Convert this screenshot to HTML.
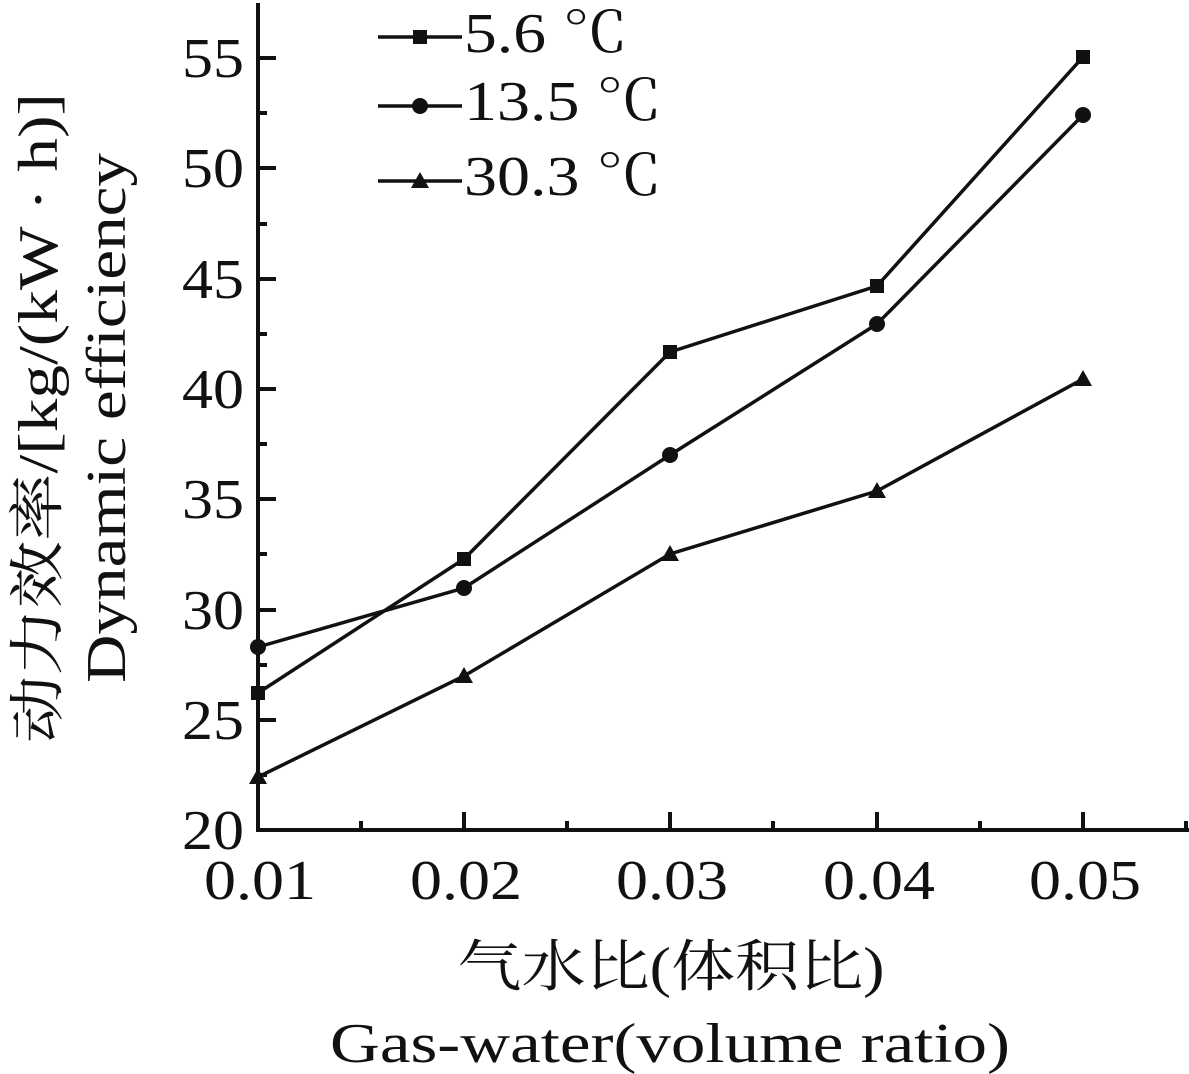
<!DOCTYPE html>
<html><head><meta charset="utf-8"><style>
html,body{margin:0;padding:0;background:#fff;}
svg{display:block;}
text{font-family:"Liberation Serif","Noto Serif CJK SC",serif;fill:#111;}
</style></head><body>
<svg width="1189" height="1074" viewBox="0 0 1189 1074" xmlns="http://www.w3.org/2000/svg">
<g stroke="#111" stroke-width="4" fill="none">
<line x1="258" y1="3" x2="258" y2="832"/>
<line x1="256" y1="830" x2="1189" y2="830"/>
<line x1="258" y1="830" x2="276" y2="830"/>
<line x1="258" y1="720" x2="276" y2="720"/>
<line x1="258" y1="610" x2="276" y2="610"/>
<line x1="258" y1="499" x2="276" y2="499"/>
<line x1="258" y1="389" x2="276" y2="389"/>
<line x1="258" y1="279" x2="276" y2="279"/>
<line x1="258" y1="168" x2="276" y2="168"/>
<line x1="258" y1="58" x2="276" y2="58"/>
<line x1="258" y1="775" x2="267" y2="775"/>
<line x1="258" y1="665" x2="267" y2="665"/>
<line x1="258" y1="554" x2="267" y2="554"/>
<line x1="258" y1="444" x2="267" y2="444"/>
<line x1="258" y1="334" x2="267" y2="334"/>
<line x1="258" y1="224" x2="267" y2="224"/>
<line x1="258" y1="113" x2="267" y2="113"/>
<line x1="464" y1="830" x2="464" y2="812"/>
<line x1="670" y1="830" x2="670" y2="812"/>
<line x1="877" y1="830" x2="877" y2="812"/>
<line x1="1083" y1="830" x2="1083" y2="812"/>
<line x1="361" y1="830" x2="361" y2="821"/>
<line x1="567" y1="830" x2="567" y2="821"/>
<line x1="773" y1="830" x2="773" y2="821"/>
<line x1="980" y1="830" x2="980" y2="821"/>
<line x1="1186" y1="830" x2="1186" y2="821"/>
</g>
<g stroke="#111" stroke-width="3.5" fill="none">
<polyline points="258,693 464,559 670,352 877,286 1083,57"/>
<polyline points="258,647 464,588 670,455 877,324 1083,115"/>
<polyline points="258,777 464,676 670,554 877,491 1083,379"/>
<line x1="378" y1="37" x2="462" y2="37"/>
<line x1="378" y1="106" x2="462" y2="106"/>
<line x1="378" y1="181" x2="462" y2="181"/>
</g>
<g fill="#111">
<rect x="251" y="686" width="14" height="14"/><rect x="457" y="552" width="14" height="14"/><rect x="663" y="345" width="14" height="14"/><rect x="870" y="279" width="14" height="14"/><rect x="1076" y="50" width="14" height="14"/>
<rect x="413" y="30" width="14" height="14"/>
<circle cx="258" cy="647" r="8"/><circle cx="464" cy="588" r="8"/><circle cx="670" cy="455" r="8"/><circle cx="877" cy="324" r="8"/><circle cx="1083" cy="115" r="8"/>
<circle cx="420" cy="106" r="8"/>
<polygon points="258,768 249,784 267,784"/><polygon points="464,667 455,683 473,683"/><polygon points="670,545 661,561 679,561"/><polygon points="877,482 868,498 886,498"/><polygon points="1083,370 1074,386 1092,386"/>
<polygon points="420,172 411,188 429,188"/>
</g>
<g font-size="56" lengthAdjust="spacingAndGlyphs">
<text x="464" y="52" textLength="164" lengthAdjust="spacingAndGlyphs">5.6 ℃</text>
<text x="464" y="120" textLength="198" lengthAdjust="spacingAndGlyphs">13.5 ℃</text>
<text x="464" y="195" textLength="198" lengthAdjust="spacingAndGlyphs">30.3 ℃</text>
</g>
<g font-size="56" text-anchor="end">
<text x="244" y="849" textLength="62" lengthAdjust="spacingAndGlyphs">20</text>
<text x="244" y="739" textLength="62" lengthAdjust="spacingAndGlyphs">25</text>
<text x="244" y="629" textLength="62" lengthAdjust="spacingAndGlyphs">30</text>
<text x="244" y="518" textLength="62" lengthAdjust="spacingAndGlyphs">35</text>
<text x="244" y="408" textLength="62" lengthAdjust="spacingAndGlyphs">40</text>
<text x="244" y="298" textLength="62" lengthAdjust="spacingAndGlyphs">45</text>
<text x="244" y="187" textLength="62" lengthAdjust="spacingAndGlyphs">50</text>
<text x="244" y="77" textLength="62" lengthAdjust="spacingAndGlyphs">55</text>
</g>
<g font-size="56" text-anchor="middle">
<text x="260" y="899" textLength="112" lengthAdjust="spacingAndGlyphs">0.01</text>
<text x="466" y="899" textLength="112" lengthAdjust="spacingAndGlyphs">0.02</text>
<text x="672" y="899" textLength="112" lengthAdjust="spacingAndGlyphs">0.03</text>
<text x="879" y="899" textLength="112" lengthAdjust="spacingAndGlyphs">0.04</text>
<text x="1085" y="899" textLength="112" lengthAdjust="spacingAndGlyphs">0.05</text>
<text x="671" y="986" textLength="427" lengthAdjust="spacingAndGlyphs">气水比(体积比)</text>
<text x="670" y="1062" textLength="680" lengthAdjust="spacingAndGlyphs">Gas-water(volume ratio)</text>
<text transform="translate(57,418) rotate(-90)" textLength="650" lengthAdjust="spacingAndGlyphs">动力效率/[kg/(kW · h)]</text>
<text transform="translate(125,418) rotate(-90)" textLength="530" lengthAdjust="spacingAndGlyphs">Dynamic efficiency</text>
</g>
</svg>
</body></html>
